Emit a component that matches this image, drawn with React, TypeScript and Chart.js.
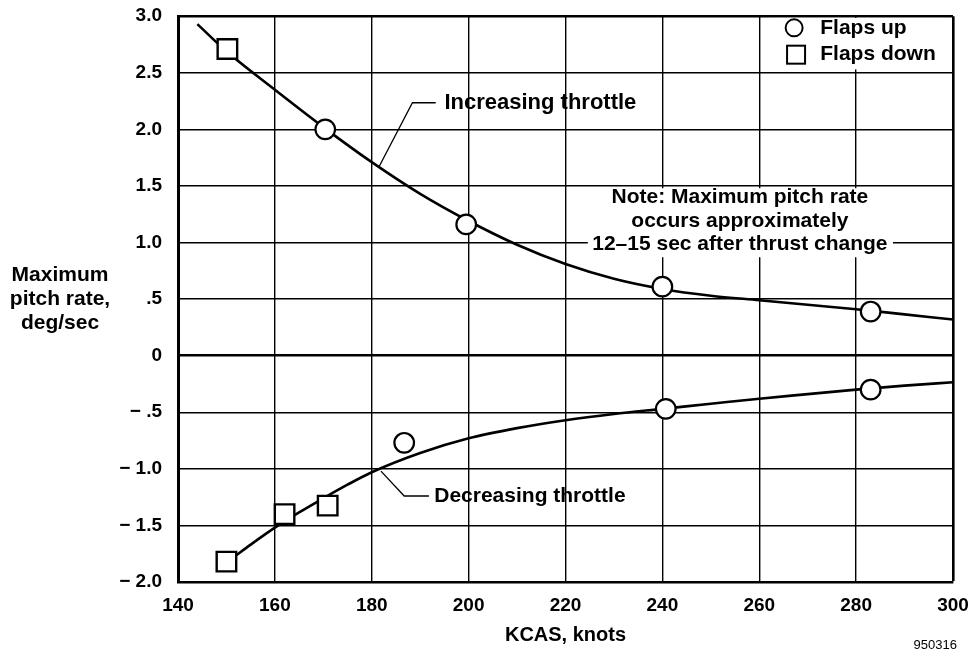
import React, { useEffect, useRef } from "react";
import { Chart, registerables } from "chart.js";

Chart.register(...registerables);

const FONT = "'Liberation Sans', Arial, Helvetica, sans-serif";

// Axes
const xTicks = [140, 160, 180, 200, 220, 240, 260, 280, 300];
const xTickLabels = ["140", "160", "180", "200", "220", "240", "260", "280", "300"];
const yTicks = [-2, -1.5, -1, -0.5, 0, 0.5, 1, 1.5, 2, 2.5, 3];
const yTickLabels = ["\u2212 2.0", "\u2212 1.5", "\u2212 1.0", "\u2212 .5", "0", ".5", "1.0", "1.5", "2.0", "2.5", "3.0"];
const xTitle = "KCAS, knots";
const yTitleLines = ["Maximum", "pitch rate,", "deg/sec"];

// Faired curves
const incX = [144, 150, 160, 170, 180, 190, 200, 210, 220, 230, 240, 250, 260, 270, 280, 290, 300];
const incY = [2.93, 2.69, 2.35, 2.02, 1.71, 1.43, 1.19, 0.98, 0.81, 0.68, 0.59, 0.53, 0.49, 0.45, 0.41, 0.365, 0.32];
const decX = [151.5, 155, 160, 165, 170, 175, 180, 190, 200, 210, 220, 230, 240, 250, 260, 270, 280, 290, 300];
const decY = [-1.78, -1.67, -1.52, -1.385, -1.26, -1.14, -1.03, -0.86, -0.73, -0.64, -0.57, -0.515, -0.47, -0.425, -0.38, -0.34, -0.3, -0.265, -0.235];

// Test points
const flapsUpX = [170.4, 199.5, 240, 283, 186.7, 240.7, 283];
const flapsUpY = [2.0, 1.16, 0.61, 0.39, -0.77, -0.47, -0.3];
const flapsDownX = [150.2, 150, 162, 170.9];
const flapsDownY = [2.71, -1.82, -1.4, -1.325];

// Texts
const legendLabels = ["Flaps up", "Flaps down"];
const noteLines = ["Note: Maximum pitch rate", "occurs approximately", "12\u201315 sec after thrust change"];
const incLabel = "Increasing throttle";
const decLabel = "Decreasing throttle";
const figureId = "950316";

export default function App() {
  const ref = useRef<HTMLCanvasElement>(null);

  useEffect(() => {
    const canvas = ref.current;
    if (!canvas) return;

    const annot = {
      id: "annot",
      beforeDatasetsDraw(chart: any) {
        const { ctx, scales } = chart;
        const xs = scales.x;
        const ys = scales.y;
        ctx.save();
        ctx.fillStyle = "#fff";
        // note box
        const nx1 = xs.getPixelForValue(224.6);
        const nx2 = xs.getPixelForValue(287.6);
        const ny1 = ys.getPixelForValue(1.48);
        const ny2 = ys.getPixelForValue(0.87);
        ctx.fillRect(nx1, ny1, nx2 - nx1, ny2 - ny1);
        // legend box
        const lx1 = xs.getPixelForValue(262);
        const lx2 = xs.getPixelForValue(299.6);
        const ly1 = ys.getPixelForValue(2.985);
        const ly2 = ys.getPixelForValue(2.53);
        ctx.fillRect(lx1, ly1, lx2 - lx1, ly2 - ly1);
        ctx.restore();
      },
      afterDatasetsDraw(chart: any) {
        const { ctx, scales, chartArea } = chart;
        const xs = scales.x;
        const ys = scales.y;
        const px = (v: number) => xs.getPixelForValue(v);
        const py = (v: number) => ys.getPixelForValue(v);
        ctx.save();
        ctx.fillStyle = "#000";
        ctx.strokeStyle = "#000";

        // legend
        ctx.lineWidth = 2;
        ctx.fillStyle = "#fff";
        ctx.beginPath();
        ctx.arc(px(267.2), py(2.897), 8.5, 0, Math.PI * 2);
        ctx.fill();
        ctx.stroke();
        const sx = px(267.6);
        const sy = py(2.66);
        ctx.fillRect(sx - 9, sy - 9, 18, 18);
        ctx.strokeRect(sx - 9, sy - 9, 18, 18);
        ctx.fillStyle = "#000";
        ctx.font = `bold 21px ${FONT}`;
        ctx.textAlign = "left";
        ctx.textBaseline = "middle";
        ctx.fillText(legendLabels[0], px(272.6), py(2.897));
        ctx.fillText(legendLabels[1], px(272.6), py(2.66));

        // leader lines
        ctx.lineWidth = 1.3;
        ctx.beginPath();
        ctx.moveTo(px(181.5), py(1.67));
        ctx.lineTo(px(188.4), py(2.235));
        ctx.lineTo(px(193.2), py(2.235));
        ctx.stroke();
        ctx.beginPath();
        ctx.moveTo(px(181.9), py(-1.02));
        ctx.lineTo(px(186.7), py(-1.24));
        ctx.lineTo(px(191.8), py(-1.24));
        ctx.stroke();
        ctx.font = `bold 22px ${FONT}`;
        ctx.fillText(incLabel, px(195), py(2.235));
        ctx.font = `bold 21px ${FONT}`;
        ctx.fillText(decLabel, px(192.9), py(-1.24));

        // note
        ctx.font = `bold 21px ${FONT}`;
        ctx.textAlign = "center";
        const noteY = [1.398, 1.192, 0.987];
        noteLines.forEach((t, i) => ctx.fillText(t, px(256), py(noteY[i])));

        // y axis title (horizontal)
        ctx.font = `bold 21px ${FONT}`;
        ctx.textAlign = "center";
        const cy = (chartArea.top + chartArea.bottom) / 2;
        yTitleLines.forEach((t, i) => ctx.fillText(t, chartArea.left - 118, cy + (i - 1) * 24));

        // figure id
        ctx.font = `13px ${FONT}`;
        ctx.textAlign = "right";
        ctx.fillText(figureId, chartArea.right + 4, 645);
        ctx.restore();
      },
    };

    const gridWidth = (ctx: any, axis: string) => {
      const v = ctx.tick ? ctx.tick.value : null;
      if (axis === "y" && (v === 0 || v === 3)) return 2.6;
      if (axis === "x" && v === 300) return 2.6;
      return 1.4;
    };

    const chart = new Chart(canvas, {
      type: "scatter",
      data: {
        datasets: [
          {
            label: legendLabels[0],
            data: flapsUpX.map((x, i) => ({ x, y: flapsUpY[i] })),
            pointStyle: "circle",
            pointRadius: 9.8,
            pointBackgroundColor: "#fff",
            pointBorderColor: "#000",
            pointBorderWidth: 2.2,
            order: 0,
          },
          {
            label: legendLabels[1],
            data: flapsDownX.map((x, i) => ({ x, y: flapsDownY[i] })),
            pointStyle: "rect",
            pointRadius: 13.8,
            pointBackgroundColor: "#fff",
            pointBorderColor: "#000",
            pointBorderWidth: 2.4,
            order: 0,
          },
          {
            label: incLabel,
            data: incX.map((x, i) => ({ x, y: incY[i] })),
            showLine: true,
            borderColor: "#000",
            borderWidth: 2.6,
            pointRadius: 0,
            cubicInterpolationMode: "monotone",
            fill: false,
            order: 1,
          },
          {
            label: decLabel,
            data: decX.map((x, i) => ({ x, y: decY[i] })),
            showLine: true,
            borderColor: "#000",
            borderWidth: 2.6,
            pointRadius: 0,
            cubicInterpolationMode: "monotone",
            fill: false,
            order: 1,
          },
        ],
      } as any,
      options: {
        animation: false,
        responsive: false,
        devicePixelRatio: 1,
        layout: { padding: { top: 15, right: 26, left: 0, bottom: 0 } },
        plugins: { legend: { display: false }, tooltip: { enabled: false } },
        scales: {
          x: {
            type: "linear",
            min: 140,
            max: 300,
            afterBuildTicks: (s: any) => {
              s.ticks = xTicks.map((v) => ({ value: v }));
            },
            afterFit: (s: any) => {
              s.height = 70;
              s.paddingLeft = 0;
              s.paddingRight = 0;
            },
            ticks: {
              callback: (v: any) => {
                const i = xTicks.indexOf(Number(v));
                return i >= 0 ? xTickLabels[i] : "";
              },
              font: { family: FONT, size: 19, weight: "bold" },
              color: "#000",
              padding: 12,
              maxRotation: 0,
              autoSkip: false,
            },
            grid: { color: "#000", lineWidth: (c: any) => gridWidth(c, "x"), drawTicks: false },
            border: { display: true, color: "#000", width: 2.6 },
            title: {
              display: true,
              text: xTitle,
              color: "#000",
              font: { family: FONT, size: 20, weight: "bold" },
              padding: { top: 0, bottom: 5 },
            },
          },
          y: {
            type: "linear",
            min: -2,
            max: 3,
            afterBuildTicks: (s: any) => {
              s.ticks = yTicks.map((v) => ({ value: v }));
            },
            afterFit: (s: any) => {
              s.width = 178;
              s.paddingTop = 0;
              s.paddingBottom = 0;
            },
            ticks: {
              callback: (v: any) => {
                const i = yTicks.indexOf(Number(v));
                return i >= 0 ? yTickLabels[i] : "";
              },
              font: { family: FONT, size: 19, weight: "bold" },
              color: "#000",
              padding: 16,
              autoSkip: false,
            },
            grid: { color: "#000", lineWidth: (c: any) => gridWidth(c, "y"), drawTicks: false },
            border: { display: true, color: "#000", width: 3 },
          },
        },
      } as any,
      plugins: [annot],
    });

    return () => chart.destroy();
  }, []);

  return (
    <div style={{ position: "fixed", left: 0, top: 0, width: 979, height: 652, background: "#fff" }}>
      <canvas ref={ref} width={979} height={652} style={{ display: "block", width: 979, height: 652 }} />
    </div>
  );
}
